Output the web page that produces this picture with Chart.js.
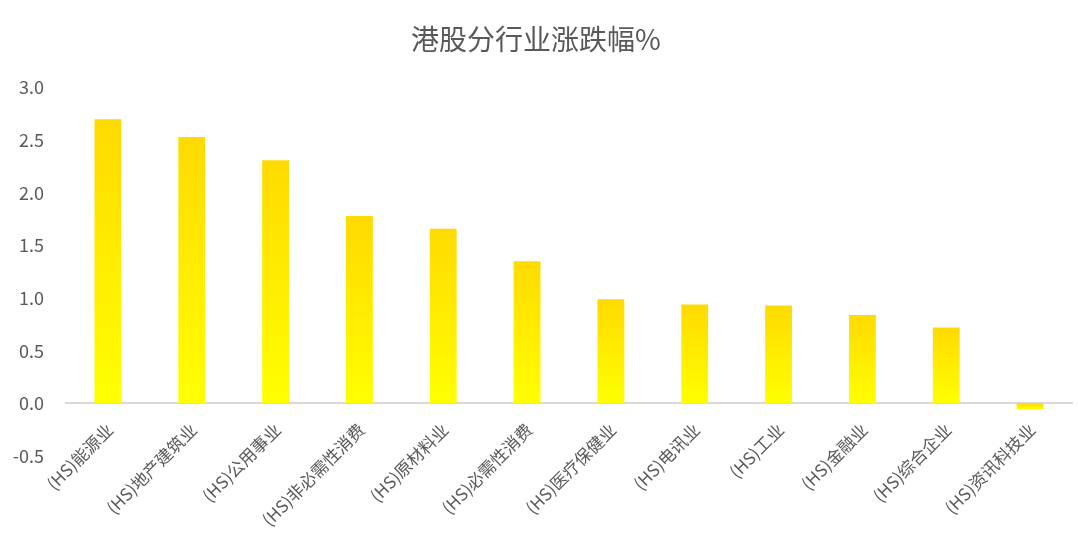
<!DOCTYPE html>
<html>
<head>
<meta charset="utf-8">
<script src="https://cdn.jsdelivr.net/npm/chart.js@4/dist/chart.umd.min.js"></script>
<style>
  html, body { margin: 0; padding: 0; background: #fff; }
  #wrap { width: 1078px; height: 552px; }
</style>
</head>
<body>
<div id="wrap"><canvas id="chart1"></canvas></div>
<script>
const categories = ["(HS)能源业", "(HS)地产建筑业", "(HS)公用事业", "(HS)非必需性消费", "(HS)原材料业",
  "(HS)必需性消费", "(HS)医疗保健业", "(HS)电讯业", "(HS)工业", "(HS)金融业", "(HS)综合企业", "(HS)资讯科技业"];
const changes = [2.70, 2.53, 2.31, 1.78, 1.66, 1.35, 0.99, 0.94, 0.93, 0.84, 0.72, -0.055];
const yTicks = [-0.5, 0.0, 0.5, 1.0, 1.5, 2.0, 2.5, 3.0];

const fontFamily = "'Noto Sans CJK SC', 'Noto Sans', sans-serif";
const textColor = "#595959";

// gradient per bar: gold at the top, bright yellow near zero
const barColor = (ctx) => {
  const chart = ctx.chart;
  const y = chart.scales.y;
  if (!y || ctx.parsed === undefined) return "#FFE600";
  const top = y.getPixelForValue(Math.max(ctx.parsed.y, 0));
  const bottom = y.getPixelForValue(Math.min(ctx.parsed.y, 0));
  if (!isFinite(top) || !isFinite(bottom) || top === bottom) return "#FFEF00";
  const g = chart.ctx.createLinearGradient(0, top, 0, bottom);
  g.addColorStop(0, "#FFDA00");
  g.addColorStop(1, "#FFFF00");
  return g;
};

const config = {
  type: "bar",
  data: {
    labels: categories,
    datasets: [{
      data: changes,
      backgroundColor: barColor,
      borderWidth: 0,
      barPercentage: 0.32,
      categoryPercentage: 1.0,
    }],
  },
  options: {
    responsive: true,
    maintainAspectRatio: false,
    animation: false,
    layout: { padding: { left: 0, right: 6, top: 0, bottom: 96 } },
    plugins: {
      legend: { display: false },
      tooltip: { enabled: false },
      title: {
        display: true,
        text: "港股分行业涨跌幅%",
        color: textColor,
        font: { family: fontFamily, size: 28, weight: "normal" },
        padding: { top: 23, bottom: 31 },
      },
    },
    scales: {
      x: {
        position: { y: 0 },
        grid: { display: false },
        border: { display: true, color: "#d9d9d9", width: 2 },
        ticks: {
          color: textColor,
          font: { family: fontFamily, size: 17 },
          maxRotation: 45,
          minRotation: 45,
          autoSkip: false,
          padding: 8,
          labelOffset: 2,
        },
      },
      y: {
        min: -0.5,
        max: 3.0,
        afterBuildTicks: (scale) => {
          scale.ticks = yTicks.map((v) => ({ value: v }));
        },
        afterFit: (scale) => { scale.width = 66; },
        grid: { display: false },
        border: { display: false },
        ticks: {
          color: textColor,
          font: { family: fontFamily, size: 18 },
          padding: 14,
          callback: (v) => Number(v).toFixed(1),
        },
      },
    },
  },
};

new Chart(document.getElementById("chart1"), config);
</script>
</body>
</html>
